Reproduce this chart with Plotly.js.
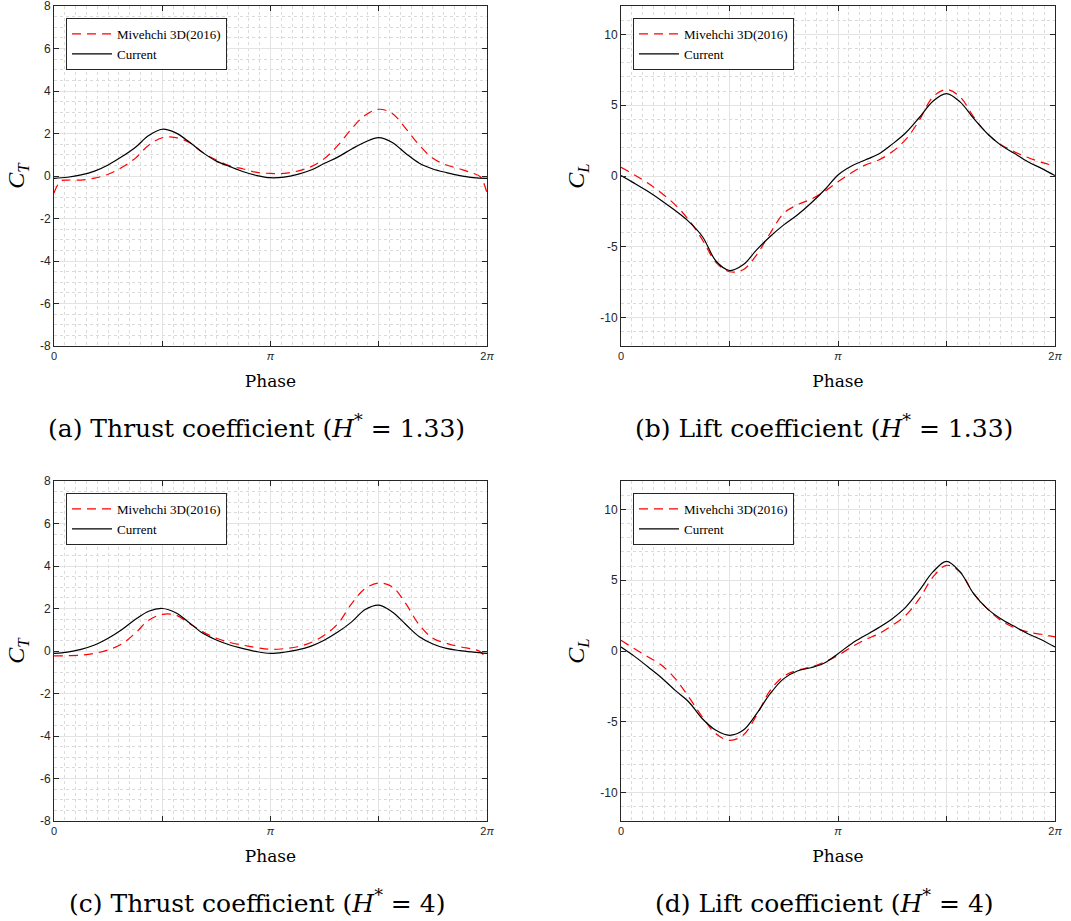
<!DOCTYPE html>
<html>
<head>
<meta charset="utf-8">
<script src="https://cdn.plot.ly/plotly-3.0.1.min.js"></script>
<style>
  html, body { margin: 0; padding: 0; background: #ffffff; }
  #chart { width: 1071px; height: 921px; }
</style>
</head>
<body>
<div id="chart"></div>
<script>
// Phase sample positions, in steps of pi/16 over one cycle
const phaseSteps = [0,1,2,3,4,5,6,7,8,9,10,11,12,13,14,15,16,17,18,19,20,21,22,23,24,25,26,27,28,29,30,31,32];
const refPhaseSteps = [0,0.5,1,2,3,4,5,6,7,8,9,10,11,12,13,14,15,16,17,18,19,20,21,22,23,24,25,26,27,28,29,30,31,31.5,32];

// (a) Thrust coefficient, H* = 1.33
const ctRefH133 = [-0.8,-0.23,-0.19,-0.19,-0.1,0.08,0.4,0.83,1.45,1.8,1.81,1.58,1.1,0.75,0.48,0.33,0.17,0.12,0.12,0.23,0.44,0.83,1.45,2.23,2.86,3.14,2.94,2.23,1.45,0.83,0.52,0.33,0.12,-0.03,-0.8];
const ctCurH133 = [-0.11,-0.06,0.05,0.23,0.52,0.9,1.34,1.9,2.2,2.03,1.6,1.1,0.7,0.44,0.2,0.02,-0.08,-0.05,0.08,0.28,0.6,0.9,1.27,1.6,1.81,1.58,1.06,0.6,0.33,0.16,0.02,-0.08,-0.11];

// (b) Lift coefficient, H* = 1.33
const clRefH133 = [0.61,0.35,0.07,-0.52,-1.22,-2.04,-3.1,-4.5,-6.1,-6.76,-6.62,-5.56,-4.04,-2.63,-2.04,-1.64,-1.1,-0.4,0.23,0.77,1.13,1.71,2.58,3.94,5.59,6.1,5.59,4.18,3.0,2.23,1.71,1.31,0.96,0.83,0.7];
const clCurH133 = [0.03,-0.52,-1.1,-1.74,-2.44,-3.22,-4.27,-6.0,-6.67,-6.27,-5.21,-4.27,-3.45,-2.75,-1.92,-0.99,0.07,0.7,1.13,1.55,2.25,3.05,4.13,5.28,5.82,5.23,4.06,3.0,2.18,1.6,1.0,0.54,0.03];

// (c) Thrust coefficient, H* = 4
const ctRefH4 = [-0.23,-0.23,-0.22,-0.2,-0.11,0.05,0.33,0.83,1.45,1.72,1.69,1.3,0.9,0.6,0.4,0.27,0.16,0.08,0.11,0.2,0.4,0.75,1.3,2.23,2.94,3.2,3.02,2.23,1.22,0.6,0.36,0.2,0.08,-0.03,-0.39];
const ctCurH4 = [-0.11,-0.05,0.08,0.28,0.6,1.0,1.48,1.87,2.0,1.8,1.33,0.83,0.52,0.28,0.11,-0.03,-0.11,-0.06,0.05,0.23,0.52,0.9,1.37,1.95,2.16,1.84,1.25,0.67,0.33,0.12,0.02,-0.05,-0.11];

// (d) Lift coefficient, H* = 4
const clRefH4 = [0.75,0.45,0.16,-0.42,-1.01,-1.95,-3.25,-4.66,-5.84,-6.31,-5.95,-4.54,-2.78,-1.79,-1.36,-1.13,-0.78,-0.31,0.28,0.8,1.22,1.81,2.52,3.69,5.22,6.05,5.58,4.05,2.99,2.16,1.65,1.34,1.18,1.08,0.99];
const clCurH4 = [0.28,-0.38,-1.13,-1.9,-2.78,-3.6,-4.78,-5.6,-5.95,-5.6,-4.42,-3.01,-1.95,-1.41,-1.18,-0.85,-0.19,0.52,1.1,1.65,2.28,3.1,4.28,5.58,6.33,5.58,4.05,2.99,2.28,1.74,1.22,0.8,0.28];

const seriesNames = ['Mivehchi 3D(2016)', 'Current'];
const xTickText = ['0', '', '<i>π</i>', '', '2<i>π</i>'];
const ctTicks = [-8, -6, -4, -2, 0, 2, 4, 6, 8];
const clTicks = [-10, -5, 0, 5, 10];
const captions = [
  '(a) Thrust coefficient (<i>H</i><sup>*</sup> = 1.33)',
  '(b) Lift coefficient (<i>H</i><sup>*</sup> = 1.33)',
  '(c) Thrust coefficient (<i>H</i><sup>*</sup> = 4)',
  '(d) Lift coefficient (<i>H</i><sup>*</sup> = 4)'
];

const toRad = s => s * Math.PI / 16;
const phase = phaseSteps.map(toRad);
const refPhase = refPhaseSteps.map(toRad);

const W = 1071, H = 921;
const axisColor = '#262626';
const sansFont = 'Liberation Sans, Arial, sans-serif';
const serifFont = 'Liberation Serif, Times New Roman, serif';
const wideSerif = 'DejaVu Serif, serif';

const panels = [
  {ref: ctRefH133, cur: ctCurH133, yName: '<i>C<sub>T</sub></i>', yr: [-8, 8], yticks: ctTicks, yminor: 0.5, left: 54, right: 487, top: 6, bottom: 346},
  {ref: clRefH133, cur: clCurH133, yName: '<i>C<sub>L</sub></i>', yr: [-12, 12], yticks: clTicks, yminor: 1, left: 621, right: 1055, top: 6, bottom: 346},
  {ref: ctRefH4, cur: ctCurH4, yName: '<i>C<sub>T</sub></i>', yr: [-8, 8], yticks: ctTicks, yminor: 0.5, left: 54, right: 487, top: 481, bottom: 821},
  {ref: clRefH4, cur: clCurH4, yName: '<i>C<sub>L</sub></i>', yr: [-12, 12], yticks: clTicks, yminor: 1, left: 621, right: 1055, top: 481, bottom: 821}
];

const traces = [];
const layout = {
  width: W, height: H,
  margin: {l: 0, r: 0, t: 0, b: 0},
  paper_bgcolor: '#ffffff',
  plot_bgcolor: '#ffffff',
  showlegend: true,
  annotations: []
};

panels.forEach((p, i) => {
  const n = i + 1;
  const xa = n === 1 ? 'x' : 'x' + n;
  const ya = n === 1 ? 'y' : 'y' + n;
  const lg = n === 1 ? 'legend' : 'legend' + n;

  traces.push({
    x: refPhase, y: p.ref, xaxis: xa, yaxis: ya, legend: lg,
    type: 'scatter', mode: 'lines', name: seriesNames[0],
    line: {color: '#ff0000', width: 1.2, dash: '9px,6px', shape: 'spline', smoothing: 1}
  });
  traces.push({
    x: phase, y: p.cur, xaxis: xa, yaxis: ya, legend: lg,
    type: 'scatter', mode: 'lines', name: seriesNames[1],
    line: {color: '#000000', width: 1.2, shape: 'spline', smoothing: 1}
  });

  const xDom = [p.left / W, p.right / W];
  const yDom = [1 - p.bottom / H, 1 - p.top / H];

  layout['xaxis' + (n === 1 ? '' : n)] = {
    domain: xDom, anchor: ya, range: [0, 2 * Math.PI],
    tickmode: 'array',
    tickvals: [0, Math.PI / 2, Math.PI, 3 * Math.PI / 2, 2 * Math.PI],
    ticktext: xTickText,
    ticks: 'inside', ticklen: 5, tickcolor: axisColor, tickwidth: 1,
    showline: true, linecolor: axisColor, linewidth: 1, mirror: 'ticks',
    showgrid: true, gridcolor: '#e3e3e3', gridwidth: 1,
    minor: {dtick: Math.PI / 20, tick0: 0, showgrid: true, gridcolor: '#dadada', griddash: 'dot', gridwidth: 1},
    zeroline: false, ticklabeloverflow: 'allow',
    tickfont: {family: sansFont, size: 11, color: axisColor},
    title: {text: 'Phase', font: {family: wideSerif, size: 17, color: '#000000'}, standoff: 13}
  };
  layout['yaxis' + (n === 1 ? '' : n)] = {
    domain: yDom, anchor: xa, range: p.yr,
    tickmode: 'array', tickvals: p.yticks, ticktext: p.yticks.map(v => String(v)),
    ticks: 'inside', ticklen: 5, tickcolor: axisColor, tickwidth: 1,
    showline: true, linecolor: axisColor, linewidth: 1, mirror: 'ticks',
    showgrid: true, gridcolor: '#e3e3e3', gridwidth: 1,
    minor: {dtick: p.yminor, tick0: 0, showgrid: true, gridcolor: '#dadada', griddash: 'dot', gridwidth: 1},
    zeroline: false, ticklabeloverflow: 'allow',
    tickfont: {family: sansFont, size: 12, color: axisColor},
    title: {text: p.yName, font: {family: serifFont, size: 24, color: '#000000'}, standoff: 8}
  };

  layout[lg] = {
    x: (p.left + 12) / W, y: 1 - (p.top + 12) / H,
    xanchor: 'left', yanchor: 'top',
    bgcolor: '#ffffff', bordercolor: axisColor, borderwidth: 1,
    font: {family: serifFont, size: 13, color: '#000000'},
    tracegroupgap: 0, itemwidth: 40
  };

  // Sub-caption under each panel, centred on the whole sub-figure (axis labels included)
  layout.annotations.push({
    text: captions[i], xref: 'paper', yref: 'paper',
    x: ((p.left + p.right) / 2 - 14) / W, y: 1 - (p.bottom + 80) / H,
    xanchor: 'center', yanchor: 'middle', showarrow: false,
    font: {family: wideSerif, size: 25, color: '#000000'}
  });
});

Plotly.newPlot('chart', traces, layout, {displayModeBar: false, staticPlot: true});
</script>
</body>
</html>
